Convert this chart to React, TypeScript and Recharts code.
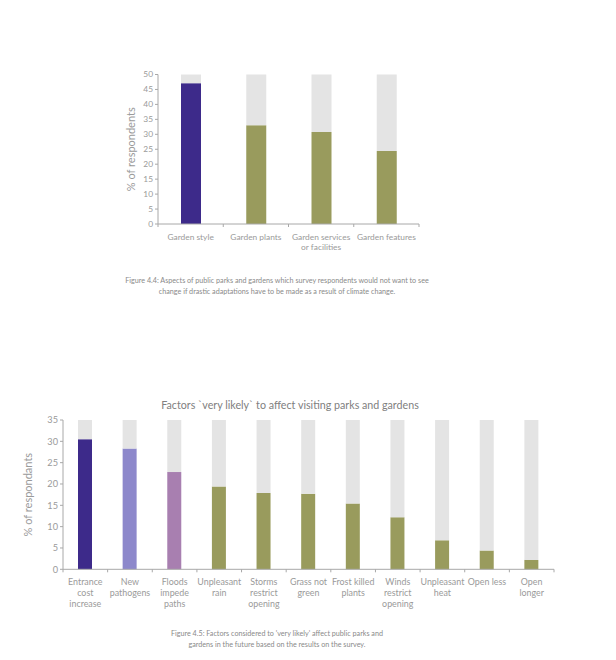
import React from "react";
import { Bar, BarChart, Cell, XAxis, YAxis } from "recharts";

// Figure 4.4 – aspects respondents would not want changed
const aspectLabels = [["Garden style"], ["Garden plants"], ["Garden services", "or facilities"], ["Garden features"]];
const aspectValues = [47.1, 33.0, 30.8, 24.4];
const aspectColors = ["#3d2a8a", "#999b5d", "#999b5d", "#999b5d"];
const aspectTicks = [0, 5, 10, 15, 20, 25, 30, 35, 40, 45, 50];

// Figure 4.5 – factors 'very likely' to affect visiting
const factorLabels = [
  ["Entrance", "cost", "increase"],
  ["New", "pathogens"],
  ["Floods", "impede", "paths"],
  ["Unpleasant", "rain"],
  ["Storms", "restrict", "opening"],
  ["Grass not", "green"],
  ["Frost killed", "plants"],
  ["Winds", "restrict", "opening"],
  ["Unpleasant", "heat"],
  ["Open less"],
  ["Open", "longer"],
];
const factorValues = [30.5, 28.3, 22.8, 19.4, 17.9, 17.7, 15.4, 12.2, 6.8, 4.4, 2.2];
const factorColors = [
  "#3d2a8a", "#8d88cb", "#a87fb0", "#999b5d", "#999b5d", "#999b5d",
  "#999b5d", "#999b5d", "#999b5d", "#999b5d", "#999b5d",
];
const factorTicks = [0, 5, 10, 15, 20, 25, 30, 35];

const FONT = "Lato, 'Open Sans', sans-serif";
const AXIS = "#a8a8a8";
const TEXT = "#9a9a9a";
const REST = "#e4e4e4";

function buildRows(labels: string[][], values: number[], max: number) {
  return labels.map((l, i) => ({ name: l.join(" "), value: values[i], rest: max - values[i] }));
}

// Category label (multi-line) plus a tick mark on the band boundary
function CategoryTick(props: any) {
  const { x, y, payload, index, step, count, fontSize, lineH, lines, first } = props;
  const text: string[] = lines[index] ?? [payload.value];
  return (
    <g>
      <line x1={x - step / 2} x2={x - step / 2} y1={y} y2={y + 3} stroke={AXIS} />
      {index === count - 1 && <line x1={x + step / 2} x2={x + step / 2} y1={y} y2={y + 3} stroke={AXIS} />}
      <text x={x} y={y} textAnchor="middle" fill={TEXT} fontSize={fontSize} fontFamily={FONT}>
        {text.map((t, i) => (
          <tspan key={i} x={x} dy={i === 0 ? first : lineH}>
            {t}
          </tspan>
        ))}
      </text>
    </g>
  );
}

function YLabel({ viewBox, text, posX }: any) {
  const cy = viewBox.y + viewBox.height / 2;
  return (
    <text
      x={posX}
      y={cy}
      transform={`rotate(-90 ${posX} ${cy})`}
      textAnchor="middle"
      dominantBaseline="central"
      fill={TEXT}
      fontSize={11}
      fontFamily={FONT}
    >
      {text}
    </text>
  );
}

function AspectsChart() {
  const rows = buildRows(aspectLabels, aspectValues, 50);
  const step = (419 - 158) / rows.length;
  return (
    <BarChart width={616} height={265} data={rows} margin={{ top: 74.5, right: 197, bottom: 11, left: 128 }} barSize={20}>
      <XAxis
        dataKey="name"
        axisLine={{ stroke: AXIS }}
        tickLine={false}
        tickSize={0}
        tickMargin={0}
        interval={0}
        height={30}
        tick={<CategoryTick step={step} count={rows.length} fontSize={8.4} lineH={10.5} first={15.5} lines={aspectLabels} />}
      />
      <YAxis
        domain={[0, 50]}
        ticks={aspectTicks}
        width={30}
        axisLine={{ stroke: AXIS }}
        tickLine={{ stroke: AXIS }}
        tickSize={3}
        tick={{ fill: TEXT, fontSize: 8.4, fontFamily: FONT }}
        label={<YLabel text="% of respondents" posX={130} />}
      />
      <Bar dataKey="value" stackId="a" isAnimationActive={false}>
        {rows.map((_, i) => (
          <Cell key={i} fill={aspectColors[i]} />
        ))}
      </Bar>
      <Bar dataKey="rest" stackId="a" fill={REST} isAnimationActive={false} />
    </BarChart>
  );
}

function FactorsChart() {
  const rows = buildRows(factorLabels, factorValues, 35);
  const step = (554 - 63) / rows.length;
  return (
    <BarChart width={616} height={250} data={rows} margin={{ top: 40, right: 62, bottom: 15.7, left: 33 }} barSize={14}>
      <XAxis
        dataKey="name"
        axisLine={{ stroke: AXIS }}
        tickLine={false}
        tickSize={0}
        tickMargin={0}
        interval={0}
        height={45}
        tick={<CategoryTick step={step} count={rows.length} fontSize={8.9} lineH={11} first={15.5} lines={factorLabels} />}
      />
      <YAxis
        domain={[0, 35]}
        ticks={factorTicks}
        width={30}
        axisLine={{ stroke: AXIS }}
        tickLine={{ stroke: AXIS }}
        tickSize={3}
        tick={{ fill: TEXT, fontSize: 9.2, fontFamily: FONT }}
        label={<YLabel text="% of respondants" posX={28} />}
      />
      <Bar dataKey="value" stackId="a" isAnimationActive={false}>
        {rows.map((_, i) => (
          <Cell key={i} fill={factorColors[i]} />
        ))}
      </Bar>
      <Bar dataKey="rest" stackId="a" fill={REST} isAnimationActive={false} />
    </BarChart>
  );
}

const caption: React.CSSProperties = {
  position: "absolute",
  left: 77,
  width: 400,
  textAlign: "center",
  fontFamily: FONT,
  fontSize: 7.2,
  lineHeight: "11px",
  color: "#8a8a8a",
};

export default function App() {
  return (
    <div style={{ position: "absolute", left: 0, top: 0, width: 616, height: 660, background: "#fff", overflow: "hidden" }}>
      <div style={{ position: "absolute", left: 0, top: 0 }}>
        <AspectsChart />
      </div>
      <div style={{ ...caption, top: 275 }}>
        Figure 4.4: Aspects of public parks and gardens which survey respondents would not want to see
        <br />
        change if drastic adaptations have to be made as a result of climate change.
      </div>
      <div
        style={{
          position: "absolute",
          left: 90,
          width: 400,
          top: 398,
          textAlign: "center",
          fontFamily: FONT,
          fontSize: 10.7,
          color: "#808080",
        }}
      >
        Factors `very likely` to affect visiting parks and gardens
      </div>
      <div style={{ position: "absolute", left: 0, top: 380 }}>
        <FactorsChart />
      </div>
      <div style={{ ...caption, top: 628 }}>
        Figure 4.5: Factors considered to 'very likely' affect public parks and
        <br />
        gardens in the future based on the results on the survey.
      </div>
    </div>
  );
}
